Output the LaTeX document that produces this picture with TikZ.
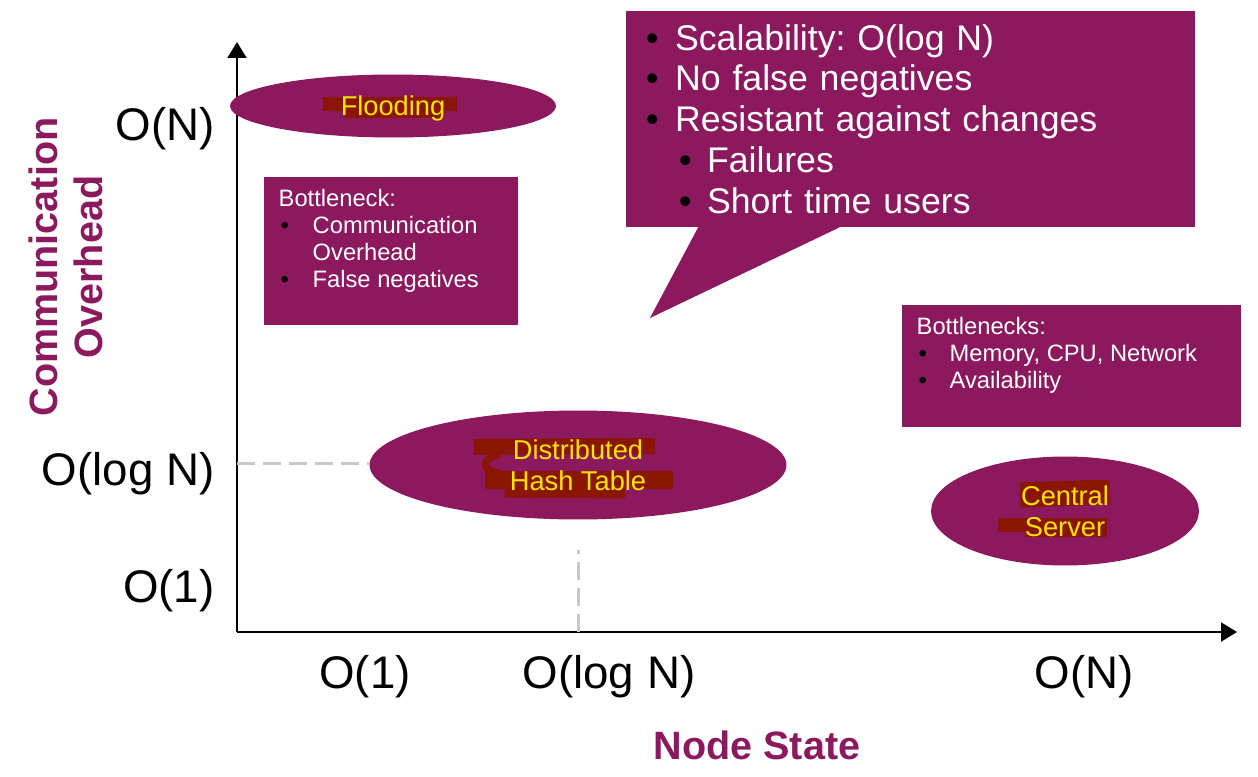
\documentclass[tikz,border=0pt]{standalone}
\usepackage{fontspec}
\setmainfont{Liberation Sans}
\usetikzlibrary{positioning,shapes.geometric,shapes.callouts,arrows.meta}
\definecolor{plum}{RGB}{140,24,94}
\definecolor{marker}{RGB}{139,22,0}
\definecolor{hltext}{RGB}{255,228,0}
\definecolor{guide}{RGB}{200,200,200}
\newcommand{\bul}[1][0.62cm]{\makebox[#1][l]{\hspace{0.04cm}\color{black}\textbullet}}
\frenchspacing

\begin{document}
\begin{tikzpicture}[x=0.02cm, y=-0.02cm, thick,
  axis/.style={line width=0.04cm, -{Triangle[length=0.32cm,width=0.38cm]}},
  tick/.style={font=\fontsize{26}{30}\selectfont},
  title/.style={font=\bfseries\fontsize{22.5}{26}\selectfont, text=plum, align=center},
  blob/.style={ellipse, fill=plum, inner sep=0pt},
  blobtext/.style={text=hltext, align=center, font=\fontsize{15.5}{17.6}\selectfont},
  hl/.style={draw=marker},
  guideline/.style={draw=guide, line width=0.06cm, dash pattern=on 0.36cm off 0.16cm},
  panel/.style={fill=plum, inner sep=0pt, anchor=north west},
  paneltext/.style={text=white, align=left, anchor=north west, inner sep=0pt, font=\fontsize{13.5}{15.3}\selectfont}
 ]
 \useasboundingbox (0,0) rectangle (1258,777);

 % axes
 \coordinate (O) at (237,632);
 \coordinate (ytop) at (237,42);
 \coordinate (xend) at (1237,632);
 \draw[axis] (O) -- (ytop);
 \draw[axis] (O) -- (xend);

 % ticks
 \coordinate (yN) at (237,129);
 \coordinate (ylog) at (237,463);
 \coordinate (y1) at (237,591);
 \node[tick, left=0.32cm of yN] (yNlbl) {O(N)};
 \node[tick, left=0.32cm of ylog, yshift=-0.22cm] (yloglbl) {O(log N)};
 \node[tick, left=0.32cm of y1] (y1lbl) {O(1)};
 \node[tick] (x1lbl) at (365,677) {O(1)};
 \node[tick] (xloglbl) at (609,677) {O(log N)};
 \node[tick] (xNlbl) at (1084,677) {O(N)};
 \node[title] (xtitle) at (757,745) {Node State};
 \node[title, rotate=90] (ytitle) at (66,267) {Communication\\Overhead};

 % schemes
 \node[blob, minimum width=6.52cm, minimum height=1.26cm] (flood) at (393,106) {};
 \node[blob, minimum width=8.34cm, minimum height=2.18cm] (dht) at (578,465) {};
 \node[blob, minimum width=5.36cm, minimum height=2.18cm] (central) at (1065,511) {};

 \coordinate (xlog) at (578,632);
 \coordinate (xlogtop) at (578,550);
 \draw[guideline] (ylog) -- (ylog -| dht.west);
 \draw[guideline] (xlog) -- (xlogtop);

 % marker strokes
 \draw[hl, line width=0.28cm] (323,104) -- (457,104);
 \draw[hl, line width=0.3cm] (345,111) -- (445,111);
 \draw[hl, line width=0.32cm] (474,447) -- (655,446);
 \draw[hl, line width=0.14cm] (500,455) .. controls (480,459) and (480,470) .. (500,473);
 \draw[hl, line width=0.36cm] (485,480) -- (673,480);
 \draw[hl, line width=0.22cm] (505,492) -- (625,493);
 \draw[hl, line width=0.5cm] (1020,495) -- (1110,492);
 \draw[hl, line width=0.28cm] (998,525) -- (1107,525);
 \draw[hl, line width=0.2cm] (1025,532) -- (1107,532);

 \node[blobtext] (floodlbl) at ([yshift=-0.04cm]flood) {Flooding};
 \node[blobtext] (dhtlbl) at (dht) {Distributed\\Hash Table};
 \node[blobtext] (centrallbl) at (central) {Central\\Server};

 % notes
 \node[panel, minimum width=5.08cm, minimum height=2.96cm] (bneck) at (263,176) {};
 \node[paneltext] (bnecktext) at ([xshift=0.3cm, yshift=-0.26cm]bneck.north west)
  {Bottleneck:\\ \bul[0.68cm]Communication\\ \hspace*{0.68cm}Overhead\\ \bul[0.68cm]False negatives};
 \node[panel, minimum width=6.78cm, minimum height=2.44cm] (bnecks) at (901,304) {};
 \node[paneltext] (bneckstext) at ([xshift=0.3cm, yshift=-0.26cm]bnecks.north west)
  {Bottlenecks:\\ \bul[0.66cm]Memory, CPU, Network\\ \bul[0.66cm]Availability};

 \node[rectangle callout, fill=plum, text=white, minimum width=11.38cm, minimum height=4.32cm,
  inner xsep=0.36cm, text width=10.66cm, align=left,
  callout absolute pointer={(650,318)}, callout pointer width=2.84cm,
  font=\fontsize{20.3}{23.2}\selectfont] (dhtnote) at (910.5,119)
  {\bul Scalability: O(log N)\\ \bul No false negatives\\ \bul Resistant against changes\\
   \hspace*{0.66cm}\bul[0.6cm]Failures\\ \hspace*{0.66cm}\bul[0.6cm]Short time users};
\end{tikzpicture}
\end{document}
